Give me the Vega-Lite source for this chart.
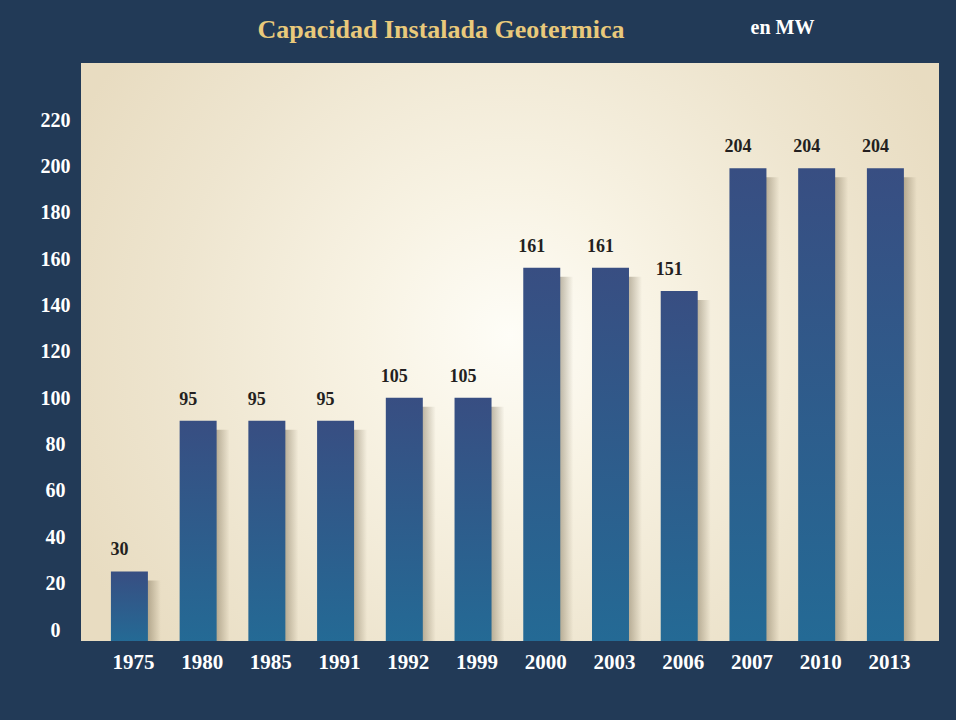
{
  "$schema": "https://vega.github.io/schema/vega-lite/v6.json",
  "width": 858,
  "height": 578,
  "autosize": {"type": "none"},
  "padding": {"left": 81, "top": 63, "right": 17, "bottom": 79},
  "background": "#223a57",
  "title": {
    "text": "Capacidad Instalada Geotermica",
    "anchor": "middle",
    "dx": -69,
    "offset": -26,
    "font": "Liberation Serif",
    "fontSize": 26,
    "fontWeight": "bold",
    "color": "#e9c97b"
  },
  "config": {
    "view": {
      "stroke": null,
      "fill": {
        "gradient": "radial",
        "x1": 0.5, "y1": 0.48, "r1": 0,
        "x2": 0.5, "y2": 0.48, "r2": 0.56,
        "stops": [
          {"offset": 0, "color": "#fefdf7"},
          {"offset": 0.3, "color": "#f8f3e4"},
          {"offset": 0.7, "color": "#eee5cf"},
          {"offset": 1, "color": "#e8dcc1"}
        ]
      }
    }
  },
  "data": {
    "values": [
      {"year": "1975", "mw": 30},
      {"year": "1980", "mw": 95},
      {"year": "1985", "mw": 95},
      {"year": "1991", "mw": 95},
      {"year": "1992", "mw": 105},
      {"year": "1999", "mw": 105},
      {"year": "2000", "mw": 161},
      {"year": "2003", "mw": 161},
      {"year": "2006", "mw": 151},
      {"year": "2007", "mw": 204},
      {"year": "2010", "mw": 204},
      {"year": "2013", "mw": 204}
    ]
  },
  "encoding": {
    "x": {
      "field": "year",
      "type": "nominal",
      "sort": null,
      "scale": {"paddingInner": 0.4617, "paddingOuter": 0.473, "align": 0.46},
      "axis": {
        "title": null,
        "labelAngle": 0,
        "labelFont": "Liberation Serif",
        "labelFontSize": 21,
        "labelFontWeight": "bold",
        "labelColor": "#ffffff",
        "labelBaseline": "alphabetic",
        "labelPadding": 27,
        "labelOffset": 4,
        "ticks": false,
        "tickSize": 0,
        "domain": false,
        "grid": false
      }
    },
    "y": {
      "field": "mw",
      "type": "quantitative",
      "scale": {"domain": [0, 249.4], "nice": false, "zero": true},
      "axis": {
        "title": "en MW",
        "titleAngle": 0,
        "titleX": 701,
        "titleY": -30,
        "titleAlign": "center",
        "titleBaseline": "alphabetic",
        "titleFont": "Liberation Serif",
        "titleFontSize": 20,
        "titleFontWeight": "bold",
        "titleColor": "#ffffff",
        "values": [0, 20, 40, 60, 80, 100, 120, 140, 160, 180, 200, 220],
        "labelFont": "Liberation Serif",
        "labelFontSize": 20,
        "labelFontWeight": "bold",
        "labelColor": "#ffffff",
        "labelAlign": "center",
        "labelBaseline": "alphabetic",
        "labelOffset": -5,
        "labelPadding": 26,
        "ticks": false,
        "tickSize": 0,
        "domain": false,
        "grid": false
      }
    }
  },
  "layer": [
    {
      "mark": {
        "type": "bar",
        "clip": true,
        "xOffset": 13,
        "yOffset": 9,
        "stroke": null,
        "fill": {
          "gradient": "linear",
          "x1": 0, "y1": 0, "x2": 1, "y2": 0,
          "stops": [
            {"offset": 0, "color": "rgba(105,92,66,0.5)"},
            {"offset": 0.64, "color": "rgba(105,92,66,0.42)"},
            {"offset": 1, "color": "rgba(105,92,66,0)"}
          ]
        }
      }
    },
    {
      "mark": {
        "type": "bar",
        "stroke": null,
        "fill": {
          "gradient": "linear",
          "x1": 0, "y1": 0, "x2": 0, "y2": 1,
          "stops": [
            {"offset": 0, "color": "#384e82"},
            {"offset": 1, "color": "#246a95"}
          ]
        }
      }
    },
    {
      "mark": {
        "type": "text",
        "font": "Liberation Serif",
        "fontSize": 18,
        "fontWeight": "bold",
        "color": "#231f20",
        "baseline": "alphabetic",
        "align": "center",
        "dx": -10,
        "dy": -16
      },
      "encoding": {"text": {"field": "mw", "type": "quantitative"}}
    }
  ]
}
